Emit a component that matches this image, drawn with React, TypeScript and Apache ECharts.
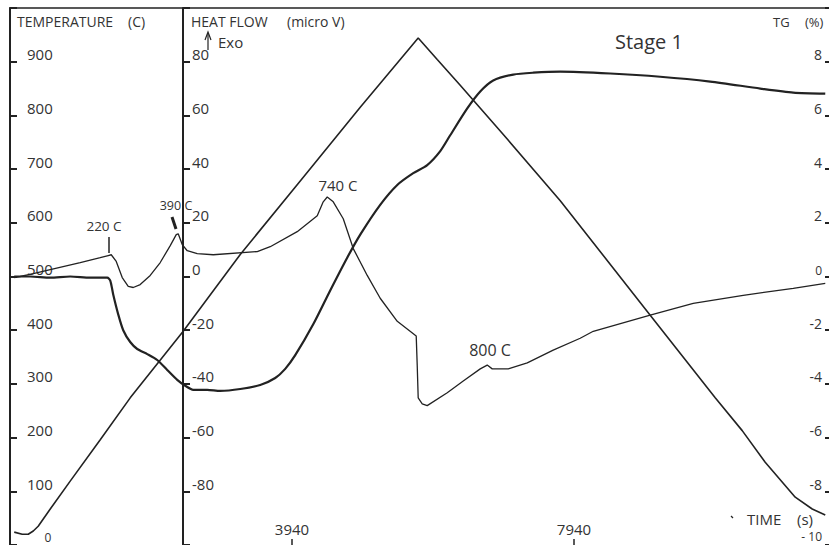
import React, { useEffect, useRef } from 'react';
import * as echarts from 'echarts';

const FONT = '"Open Sans", "Noto Sans", sans-serif';
const INK = '#222';
const TXT = '#333';

// Time axis (s)
const timeTickValues = [3940, 7940];

// Temperature (C) vs time (s)
const tempTime = [0, 113, 199, 270, 340, 511, 794, 1220, 1645, 2397, 3206, 4057, 4908, 5475, 5730, 6000, 6326, 6993, 7745, 9021, 9943, 10326, 10652, 11078, 11319, 11504];
const tempValues = [24, 20, 20, 26, 35, 67, 119, 196, 274, 398, 541, 678, 815, 904, 944, 904, 856, 756, 641, 428, 274, 213, 154, 89, 67, 56];

// Heat flow (micro V) vs time (s)
const hfTime = [0, 85, 270, 511, 936, 1220, 1333, 1376, 1447, 1532, 1617, 1688, 1787, 1929, 2071, 2213, 2298, 2326, 2383, 2454, 2596, 2823, 3447, 3631, 4014, 4298, 4383, 4440, 4525, 4667, 4809, 5007, 5191, 5433, 5702, 5716, 5730, 5787, 5858, 6142, 6369, 6610, 6709, 6780, 7007, 7277, 7645, 8028, 8213, 9021, 9631, 10340, 11050, 11504];
const hfValues = [-0.4, 0, 1.1, 2.6, 5.2, 7.0, 7.8, 8.1, 5.6, -0.4, -3.7, -4.1, -3.0, 0.4, 5.2, 11.5, 15.6, 15.9, 11.9, 9.6, 8.5, 8.1, 9.3, 11.1, 16.7, 22.6, 27.8, 29.6, 27.8, 21.5, 10.4, 0.4, -8.1, -16.7, -22.2, -33.0, -45.2, -47.4, -48.1, -43.3, -38.9, -34.4, -33.0, -34.4, -34.4, -32.2, -27.4, -23.0, -20.4, -14.4, -10.0, -7.0, -4.4, -2.6];

// TG (%) vs time (s)
const tgTime = [0, 227, 511, 794, 1078, 1319, 1362, 1404, 1475, 1546, 1645, 1745, 1887, 2028, 2170, 2312, 2426, 2539, 2738, 2922, 3206, 3489, 3702, 3844, 3986, 4241, 4482, 4723, 4908, 5191, 5433, 5660, 5858, 6043, 6184, 6426, 6610, 6794, 7078, 7362, 7745, 8454, 9163, 9872, 10582, 11050, 11504];
const tgValues = [0, 0, -0.04, 0, -0.04, -0.04, -0.15, -0.67, -1.41, -2.0, -2.44, -2.7, -2.89, -3.11, -3.48, -3.85, -4.07, -4.22, -4.22, -4.26, -4.19, -4.04, -3.78, -3.44, -2.93, -1.78, -0.52, 0.7, 1.56, 2.67, 3.41, 3.85, 4.15, 4.67, 5.26, 6.26, 6.89, 7.3, 7.52, 7.59, 7.63, 7.56, 7.44, 7.26, 7.0, 6.85, 6.81];

const pairs = (xs: number[], ys: number[]) => xs.map((x, i) => [x, ys[i]]);

const txt = (text: string, x: number, y: number, size: number, align: string = 'left') => ({
  type: 'text',
  x,
  y,
  silent: true,
  style: {
    text,
    fill: TXT,
    fontSize: size,
    fontFamily: FONT,
    textAlign: align,
    align,
    textVerticalAlign: 'middle',
    verticalAlign: 'middle',
  },
});

const seg = (x1: number, y1: number, x2: number, y2: number, w: number) => ({
  type: 'line',
  silent: true,
  shape: { x1, y1, x2, y2 },
  style: { stroke: INK, lineWidth: w },
});

const yAxisCommon = (labelMargin: number) => ({
  type: 'value',
  splitLine: { show: false },
  axisLine: { show: true, onZero: false, lineStyle: { color: INK, width: 2 } },
  axisTick: { show: true, inside: true, length: 7, lineStyle: { color: INK, width: 2 } },
  axisLabel: {
    inside: true,
    margin: labelMargin,
    verticalAlign: 'bottom',
    color: TXT,
    fontSize: 15,
    fontFamily: FONT,
  },
});

export default function App() {
  const ref = useRef<HTMLDivElement>(null);
  useEffect(() => {
    const chart = echarts.init(ref.current!, null, { renderer: 'svg' });
    const tAxis: any = yAxisCommon(17);
    tAxis.min = 0;
    tAxis.max = 1000;
    tAxis.interval = 100;
    tAxis.position = 'left';
    tAxis.axisLabel.formatter = (v: number) => (v === 0 || v === 1000 ? '' : String(v));

    const hAxis: any = yAxisCommon(9);
    hAxis.min = -100;
    hAxis.max = 100;
    hAxis.interval = 20;
    hAxis.position = 'left';
    hAxis.offset = -173;
    hAxis.axisLabel.formatter = (v: number) => (Math.abs(v) === 100 ? '' : String(v));

    const gAxis: any = yAxisCommon(7);
    gAxis.min = -10;
    gAxis.max = 10;
    gAxis.interval = 2;
    gAxis.position = 'right';
    gAxis.axisLine = { show: false, onZero: false };
    gAxis.axisTick = { show: true, inside: true, length: 4, lineStyle: { color: INK, width: 2 } };
    gAxis.axisLabel.fontSize = 14;
    gAxis.axisLabel.formatter = (v: number) =>
      v === 10 || v === -10 ? '' : v === 0 ? '{s|0}' : String(v);
    gAxis.axisLabel.rich = { s: { fontSize: 12, fontFamily: FONT, color: TXT } };

    const option: any = {
      animation: false,
      backgroundColor: '#ffffff',
      grid: { left: 10, right: 0, top: 8, bottom: -3 },
      xAxis: [
        {
          type: 'value',
          position: 'bottom',
          min: -60,
          max: 11557,
          splitLine: { show: false },
          axisLine: { show: false, onZero: false },
          axisTick: { show: true, inside: true, length: 6, customValues: timeTickValues, lineStyle: { color: INK, width: 1.5 } },
          axisLabel: {
            inside: true,
            margin: 9,
            customValues: timeTickValues,
            color: TXT,
            fontSize: 15,
            fontFamily: FONT,
            formatter: (v: number) => String(v),
          },
        },
        {
          type: 'value',
          position: 'top',
          min: -60,
          max: 11557,
          splitLine: { show: false },
          axisLine: { show: true, onZero: false, lineStyle: { color: INK, width: 1.5 } },
          axisTick: { show: false },
          axisLabel: { show: false },
        },
      ],
      yAxis: [tAxis, hAxis, gAxis],
      series: [
        {
          name: 'Temperature',
          type: 'line',
          yAxisIndex: 0,
          data: pairs(tempTime, tempValues),
          showSymbol: false,
          lineStyle: { color: INK, width: 1.6 },
        },
        {
          name: 'Heat flow',
          type: 'line',
          yAxisIndex: 1,
          data: pairs(hfTime, hfValues),
          showSymbol: false,
          lineStyle: { color: INK, width: 1.3 },
        },
        {
          name: 'TG',
          type: 'line',
          yAxisIndex: 2,
          data: pairs(tgTime, tgValues),
          showSymbol: false,
          smooth: 0.25,
          lineStyle: { color: INK, width: 2.2 },
        },
      ],
      graphic: [
        txt('TEMPERATURE', 17, 21, 14),
        txt('(C)', 128, 21, 14),
        txt('HEAT FLOW', 191, 21, 14),
        txt('(micro V)', 287, 21, 14),
        txt('Exo', 218, 42, 15),
        { type: 'polyline', silent: true, shape: { points: [[205, 40], [208, 32], [211, 40]] }, style: { stroke: INK, lineWidth: 1.2, fill: 'none' } },
        seg(208, 33, 208, 50, 1.2),
        txt('Stage 1', 615, 41, 20),
        txt('TG', 773, 22, 13),
        txt('(%)', 805, 22, 13),
        txt('220 C', 104, 226, 13.5, 'center'),
        seg(109, 237, 109, 253, 1.5),
        txt('390 C', 176, 205, 12.5, 'center'),
        seg(172, 217, 176, 229, 3),
        txt('740 C', 338, 185, 15, 'center'),
        txt('800 C', 490, 350, 16, 'center'),
        txt('TIME', 747, 519, 15),
        txt('(s)', 797, 519, 15),
        seg(731, 516, 733, 518, 1.2),
        txt('0', 48, 537, 12, 'center'),
        txt('- 10', 822, 536, 12, 'right'),
      ],
    };
    chart.setOption(option);
    return () => chart.dispose();
  }, []);
  return (
    <div
      ref={ref}
      style={{ position: 'fixed', left: 0, top: 0, width: 829, height: 545, background: '#fff' }}
    />
  );
}
